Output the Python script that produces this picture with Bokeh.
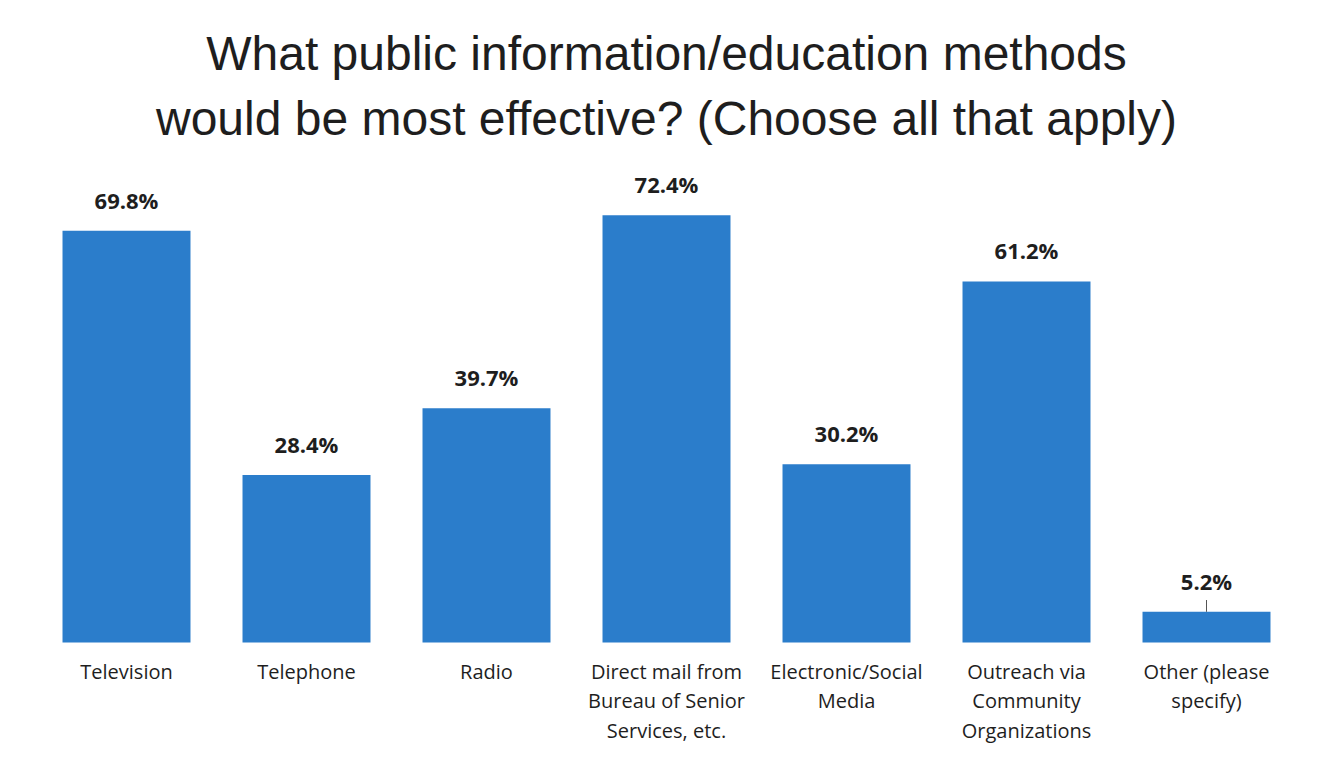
from bokeh.plotting import figure
from bokeh.models import FactorRange, Range1d, Title, ColumnDataSource
from bokeh.core.properties import value
from bokeh.embed import file_html
from bokeh.resources import INLINE

# ---- data ----
categories = [
    "Television",
    "Telephone",
    "Radio",
    "Direct mail from\nBureau of Senior\nServices, etc.",
    "Electronic/Social\nMedia",
    "Outreach via\nCommunity\nOrganizations",
    "Other (please\nspecify)",
]
percent = [69.8, 28.4, 39.7, 72.4, 30.2, 61.2, 5.2]
percent_labels = ["69.8%", "28.4%", "39.7%", "72.4%", "30.2%", "61.2%", "5.2%"]
title_lines = [
    "What public information/education methods",
    "would be most effective? (Choose all that apply)",
]

# ---- layout constants ----
PX_PER_UNIT = 5.9          # pixels per percentage point
FRAME_H = 579
BELOW_ZERO_PX = 109
y_start = -BELOW_ZERO_PX / PX_PER_UNIT
y_end = (FRAME_H - BELOW_ZERO_PX) / PX_PER_UNIT

BAR_COLOR = "#2B7DCB"
TEXT_COLOR = "#1e1e1e"

src = ColumnDataSource(dict(cat=categories, val=percent, lab=percent_labels))

p = figure(
    x_range=FactorRange(factors=categories, range_padding=0),
    y_range=Range1d(y_start, y_end),
    frame_width=1260,
    frame_height=FRAME_H,
    min_border_left=36,
    min_border_right=18,
    min_border_bottom=0,
    min_border_top=172,
    output_backend="svg",
    toolbar_location=None,
    background_fill_color="white",
    border_fill_color="white",
)
p.outline_line_color = None
p.xaxis.visible = False
p.yaxis.visible = False
p.xgrid.grid_line_color = None
p.ygrid.grid_line_color = None

# title: second line added first so it sits closest to the frame
title_standoffs = [-35, 55]
for line, so in reversed(list(zip(title_lines, title_standoffs))):
    p.add_layout(
        Title(
            text=line,
            align="center",
            text_font="Liberation Sans",
            text_font_size="48px",
            text_font_style="normal",
            text_color=TEXT_COLOR,
            standoff=so,
        ),
        "above",
    )

p.vbar(x="cat", top="val", bottom=0, width=0.711, source=src,
       fill_color=BAR_COLOR, line_color=None)

# value labels
p.text(x="cat", y="val", text="lab", source=src,
       text_font=value("Open Sans"), text_font_style="bold",
       text_font_size="22px", text_color=TEXT_COLOR,
       text_align="center", text_baseline="alphabetic", y_offset=-31)

# leader line for the small 'Other' bar
small = [i for i, v in enumerate(percent) if v < 10]
p.segment(x0=[categories[i] for i in small], y0=[percent[i] for i in small],
          x1=[categories[i] for i in small], y1=[percent[i] + 2.0 for i in small],
          line_color="#555555", line_width=1)

# category labels below bars
p.text(x="cat", y=0, text="cat", source=src,
       text_font=value("Open Sans"), text_font_size="20px",
       text_color=TEXT_COLOR, text_align="center", text_baseline="top",
       text_line_height=1.1, y_offset=15)

open("out.html", "w").write(file_html(p, INLINE))
